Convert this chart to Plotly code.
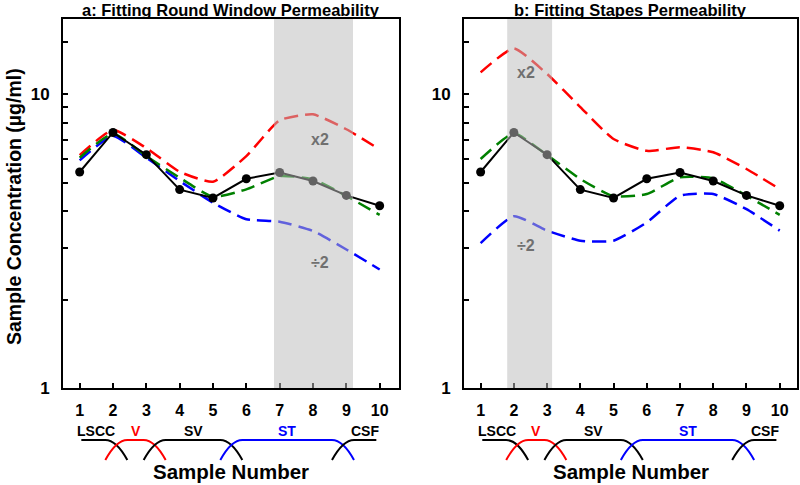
import numpy as np
import plotly.graph_objects as go

# ---------------- data ----------------
samples = [1, 2, 3, 4, 5, 6, 7, 8, 9, 10]
measured = [5.43, 7.40, 6.22, 4.73, 4.43, 5.15, 5.41, 5.06, 4.52, 4.17]

a_best = [6.07, 7.33, 6.15, 5.19, 4.47, 4.74, 5.26, 5.13, 4.50, 3.88]
a_x2 = [6.20, 7.54, 6.55, 5.44, 5.03, 6.15, 8.14, 8.53, 7.59, 6.48]
a_half = [5.95, 7.20, 6.07, 5.06, 4.27, 3.75, 3.68, 3.42, 2.96, 2.53]

b_best = [6.01, 7.35, 6.20, 5.14, 4.49, 4.57, 5.21, 5.17, 4.51, 3.88]
b_x2 = [11.85, 14.3, 11.7, 9.03, 7.03, 6.41, 6.59, 6.34, 5.56, 4.75]
b_half = [3.11, 3.84, 3.43, 3.17, 3.17, 3.66, 4.51, 4.57, 4.06, 3.43]

a_band = [6.83, 9.2]
b_band = [1.8, 3.15]

titles = ["a: Fitting Round Window Permeability", "b: Fitting Stapes Permeability"]

regions = ["LSCC", "V", "SV", "ST", "CSF"]
region_bounds = [1.05, 2.1, 3.25, 5.55, 8.9, 9.9]
region_colors = ["black", "red", "black", "blue", "black"]

y_tickvals = [1, 2, 3, 4, 5, 6, 7, 8, 9, 10, 15]
y_ticktext = ["1", "", "", "", "", "", "", "", "", "10", ""]

# ---------------- layout constants ----------------
W, H = 800, 485
TOP, BOTTOM = 19, 388             # plot frame in pixels
FONT = "Liberation Sans, Arial, sans-serif"


def py2paper(py):
    return (BOTTOM - py) / (BOTTOM - TOP)


def px2paper(px):
    return px / W


RED, GREEN, BLUE = "#ff0000", "#008000", "#0000ff"
DASH = "14px,7px"

fig = go.Figure()

panels = [
    dict(best=a_best, x2=a_x2, half=a_half, band=a_band, xa="x", ya="y",
         lab_x2=(8.2, 7.0), lab_half=(8.2, 2.67)),
    dict(best=b_best, x2=b_x2, half=b_half, band=b_band, xa="x2", ya="y2",
         lab_x2=(2.38, 11.8), lab_half=(2.38, 3.05)),
]

for p in panels:
    for vals, col in [(p["x2"], RED), (p["half"], BLUE), (p["best"], GREEN)]:
        fig.add_trace(go.Scatter(
            x=samples, y=vals, mode="lines", xaxis=p["xa"], yaxis=p["ya"],
            line=dict(color=col, width=2.5, dash=DASH, shape="spline", smoothing=0.5),
            showlegend=False, hoverinfo="skip"))
    fig.add_trace(go.Scatter(
        x=samples, y=measured, mode="lines+markers", xaxis=p["xa"], yaxis=p["ya"],
        line=dict(color="black", width=2), marker=dict(color="black", size=9),
        showlegend=False))
    # shaded band
    fig.add_shape(type="rect", xref=p["xa"], yref=p["ya"] + " domain",
                  x0=p["band"][0], x1=p["band"][1], y0=0, y1=1,
                  fillcolor="rgba(188,188,188,0.52)", line=dict(width=0), layer="above")
    for txt, (lx, ly) in [("x2", p["lab_x2"]), ("÷2", p["lab_half"])]:
        fig.add_annotation(x=lx, y=np.log10(ly), xref=p["xa"], yref=p["ya"], text=txt,
                           showarrow=False, xanchor="center", yanchor="middle",
                           font=dict(family=FONT, size=16, color="#707070", weight="bold"))

    # region brackets under the axis
    top_y, bot_y = py2paper(440), py2paper(460)
    w = 0.33
    for i, (name, col) in enumerate(zip(regions, region_colors)):
        a, b = region_bounds[i], region_bounds[i + 1]
        if i == 0:
            path = f"M {a},{top_y}"
        else:
            path = (f"M {a - w},{bot_y} C {a - 0.55 * w},{bot_y + 0.45 * (top_y - bot_y)} "
                    f"{a + 0.1 * w},{top_y} {a + w},{top_y}")
        if i == len(regions) - 1:
            path += f" L {b},{top_y}"
        else:
            path += (f" L {b - w},{top_y} C {b - 0.1 * w},{top_y} "
                     f"{b + 0.55 * w},{bot_y + 0.45 * (top_y - bot_y)} {b + w},{bot_y}")
        fig.add_shape(type="path", path=path, xref=p["xa"], yref="paper",
                      line=dict(color=col, width=2))
        lx = (a + b) / 2
        if i == 0:
            lx = 1.5
        if i == len(regions) - 1:
            lx = 9.55
        fig.add_annotation(x=lx, y=py2paper(431), xref=p["xa"], yref="paper", text=name,
                           showarrow=False, xanchor="center", yanchor="middle",
                           font=dict(family=FONT, size=14, color=col, weight="bold"))

dom_a = [px2paper(63), px2paper(399)]
dom_b = [px2paper(464), px2paper(797)]

for i, (dom, title) in enumerate(zip([dom_a, dom_b], titles)):
    cx = (dom[0] + dom[1]) / 2
    fig.add_annotation(x=cx, y=py2paper(10), xref="paper", yref="paper", text=title,
                       showarrow=False, xanchor="center", yanchor="middle",
                       font=dict(family=FONT, size=16.5, color="black", weight="bold"))
    fig.add_annotation(x=cx, y=py2paper(471), xref="paper", yref="paper",
                       text="Sample Number", showarrow=False, xanchor="center",
                       yanchor="middle",
                       font=dict(family=FONT, size=20.5, color="black", weight="bold"))

fig.add_annotation(x=px2paper(14), y=py2paper(207), xref="paper", yref="paper",
                   text="Sample Concentration (µg/ml)", textangle=-90, showarrow=False,
                   xanchor="center", yanchor="middle",
                   font=dict(family=FONT, size=19.5, color="black", weight="bold"))

xcommon = dict(tickvals=samples, ticks="inside", ticklen=5, tickwidth=1.5, tickcolor="black",
               showline=True, linewidth=2, linecolor="black", mirror=True, showgrid=False,
               zeroline=False, ticklabelstandoff=7,
               tickfont=dict(family=FONT, size=16, color="black", weight="bold"))
ycommon = dict(type="log", range=[0, np.log10(18)], tickvals=y_tickvals, ticktext=y_ticktext,
               ticks="inside", ticklen=5, tickwidth=1.5, tickcolor="black",
               showline=True, linewidth=2, linecolor="black", mirror=True, showgrid=False,
               zeroline=False, ticklabelstandoff=8,
               tickfont=dict(family=FONT, size=17, color="black", weight="bold"))

fig.update_layout(
    width=W, height=H, plot_bgcolor="white", paper_bgcolor="white",
    margin=dict(l=0, r=0, t=TOP, b=H - BOTTOM, autoexpand=False),
    xaxis=dict(domain=dom_a, range=[0.5, 10.58], anchor="y", **xcommon),
    yaxis=dict(domain=[0, 1], anchor="x", **ycommon),
    xaxis2=dict(domain=dom_b, range=[0.5, 10.52], anchor="y2", **xcommon),
    yaxis2=dict(domain=[0, 1], anchor="x2", **ycommon),
)

fig.write_html("out.html", config={"displayModeBar": False},
               post_script="document.body.style.margin='0';")
